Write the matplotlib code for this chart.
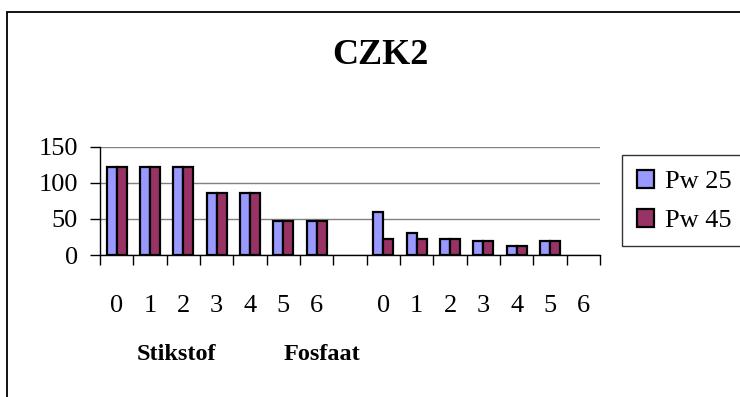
import matplotlib
matplotlib.use('Agg')
from matplotlib import pyplot as plt
from matplotlib.patches import Rectangle

plt.rcParams['font.family'] = 'Liberation Serif'

nan = float('nan')

# Stikstof 0-6, an empty slot, then Fosfaat 0-6
tick_labels = ['0', '1', '2', '3', '4', '5', '6', '',
               '0', '1', '2', '3', '4', '5', '6']
pw25 = [122, 122, 122, 86, 86, 47, 47, nan, 59, 31, 22, 20, 12, 20, nan]
pw45 = [122, 122, 122, 86, 86, 47, 47, nan, 22, 22, 22, 20, 12, 20, nan]
series_names = ['Pw 25', 'Pw 45']
group_names = ['Stikstof', 'Fosfaat']
yticks = [0, 50, 100, 150]

W, H = 740, 397
fig = plt.figure(figsize=(W / 100, H / 100), dpi=100)
ax = fig.add_axes([100 / W, (H - 255) / H, 500 / W, 108.5 / H])

x = list(range(len(tick_labels)))
bw = 0.3
ax.bar([i - bw / 2 for i in x], pw25, bw, color='#9999FF', edgecolor='black',
       linewidth=1.6, label=series_names[0], zorder=3)
ax.bar([i + bw / 2 for i in x], pw45, bw, color='#993366', edgecolor='black',
       linewidth=1.6, label=series_names[1], zorder=3)

ax.set_xlim(-0.5, len(x) - 0.5)
ax.set_ylim(0, 150)
ax.set_yticks(yticks)
ax.yaxis.grid(True, color='#808080', linewidth=1, zorder=0)
ax.tick_params(axis='y', direction='out', length=7, width=1, pad=9, labelsize=19)

# tick marks between categories, labels in the middle
ax.set_xticks([i - 0.5 for i in range(len(x) + 1)])
ax.set_xticklabels([])
ax.set_xticks(x, minor=True)
ax.set_xticklabels(tick_labels, minor=True)
ax.tick_params(axis='x', which='major', direction='out', length=7, width=1)
ax.tick_params(axis='x', which='minor', length=0, pad=29, labelsize=19)

for side in ['top', 'right']:
    ax.spines[side].set_visible(False)
ax.spines['left'].set_linewidth(1)
ax.spines['bottom'].set_linewidth(1)

fig.text(380 / W, (H - 56) / H, 'CZK2', ha='center', va='center',
         fontsize=26, fontweight='bold')
fig.text(176 / W, (H - 355) / H, group_names[0], ha='center', va='center',
         fontsize=17.5, fontweight='bold')
fig.text(322 / W, (H - 355) / H, group_names[1], ha='center', va='center',
         fontsize=17.5, fontweight='bold')

leg = fig.legend(loc='upper left', bbox_to_anchor=(622 / W, (H - 155) / H),
                 fontsize=19, frameon=True, fancybox=False, edgecolor='black',
                 handlelength=0.68, handleheight=0.68, handletextpad=0.4,
                 borderpad=0.55, labelspacing=0.6, borderaxespad=0)
leg.get_frame().set_linewidth(1)

# chart border, running off the right and bottom edges
fig.patches.append(Rectangle((7 / W, -0.1), 1.2, (H - 12) / H + 0.1,
                             transform=fig.transFigure, fill=False,
                             edgecolor='black', linewidth=1.3))

plt.savefig('out.png', dpi=100)
